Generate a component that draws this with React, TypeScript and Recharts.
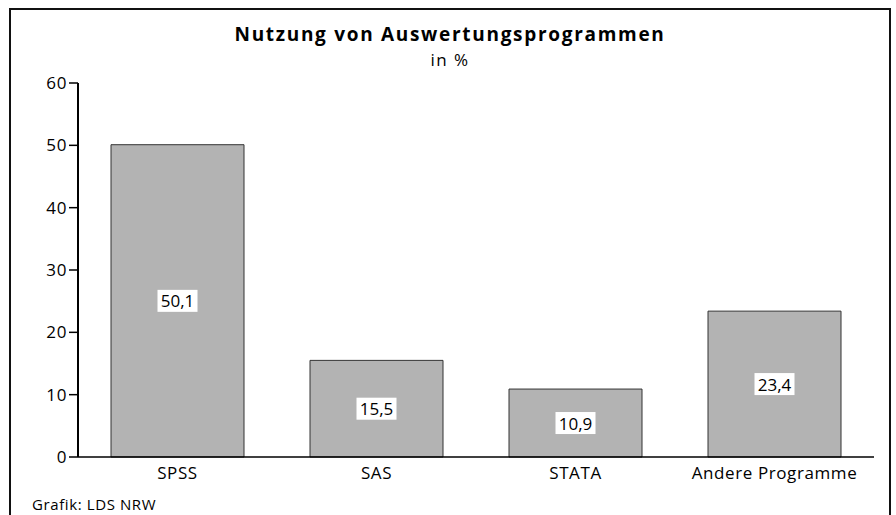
import { BarChart, Bar, XAxis, YAxis, LabelList } from 'recharts'

const programs = ['SPSS', 'SAS', 'STATA', 'Andere Programme']
const shares = [50.1, 15.5, 10.9, 23.4]
const yTicks = [0, 10, 20, 30, 40, 50, 60]

const data = programs.map((name, i) => ({ name, value: shares[i] }))

const font = '"Open Sans", "Noto Sans", sans-serif'

const fmt = (v: number) => v.toFixed(1).replace('.', ',')

function BoxLabel(props: any) {
  const { x, y, width, height, value } = props
  const cx = x + width / 2
  const cy = y + height / 2
  const text = fmt(value)
  const w = text.length * 9.5 + 2
  return (
    <g>
      <rect x={cx - w / 2} y={cy - 11} width={w} height={22} fill="#fff" />
      <text x={cx} y={cy} textAnchor="middle" dominantBaseline="central" fontSize={17} fontFamily={font} fill="#000">
        {text}
      </text>
    </g>
  )
}

export default function App() {
  return (
    <div style={{ position: 'fixed', left: 0, top: 0, width: 896, height: 515, background: '#fff', fontFamily: font }}>
      <div
        style={{
          position: 'absolute',
          left: 9,
          top: 8,
          width: 882,
          height: 515,
          border: '2px solid #111',
          boxSizing: 'border-box',
        }}
      />
      <div
        style={{
          position: 'absolute',
          left: 10,
          width: 880,
          top: 21,
          textAlign: 'center',
          color: '#000',
          fontSize: 19,
          fontWeight: 700,
          letterSpacing: 1.7,
          whiteSpace: 'nowrap',
        }}
      >
        Nutzung von Auswertungsprogrammen
      </div>
      <div
        style={{
          position: 'absolute',
          left: 10,
          width: 880,
          top: 48,
          textAlign: 'center',
          color: '#000',
          fontSize: 17,
          letterSpacing: 1.5,
        }}
      >
        in %
      </div>
      <div style={{ position: 'absolute', left: 32, top: 494, fontSize: 15, letterSpacing: 0.6, color: '#000', lineHeight: '20px' }}>
        Grafik: LDS NRW
      </div>
      <div style={{ position: 'absolute', left: 0, top: 0 }}>
        <BarChart width={896} height={515} data={data} margin={{ top: 83, right: 22, bottom: 28, left: 18 }}>
          <XAxis
            dataKey="name"
            xAxisId="bottom"
            height={30}
            tickLine={false}
            axisLine={{ stroke: '#000', strokeWidth: 1.5 }}
            tick={{ fontSize: 17, fill: '#000', fontFamily: font, letterSpacing: 0.6 }}
            tickMargin={4}
          />
          <XAxis dataKey="name" xAxisId="top" orientation="top" height={0} tick={false} tickLine={false} axisLine={{ stroke: '#333', strokeWidth: 1 }} />
          <YAxis
            yAxisId="left"
            domain={[0, 60]}
            ticks={yTicks}
            width={60}
            interval={0}
            tickSize={9}
            tickLine={{ stroke: '#000', strokeWidth: 1.5 }}
            axisLine={{ stroke: '#000', strokeWidth: 2 }}
            tick={{ fontSize: 17, fill: '#000', fontFamily: font, letterSpacing: 0.6 }}
          />
          <YAxis yAxisId="right" orientation="right" domain={[0, 60]} width={0} tick={false} tickLine={false} axisLine={{ stroke: '#333', strokeWidth: 1 }} />
          <Bar
            dataKey="value"
            xAxisId="bottom"
            yAxisId="left"
            fill="#b3b3b3"
            stroke="#333"
            strokeWidth={1}
            barSize={133}
            isAnimationActive={false}
          >
            <LabelList dataKey="value" content={<BoxLabel />} />
          </Bar>
        </BarChart>
      </div>
    </div>
  )
}
